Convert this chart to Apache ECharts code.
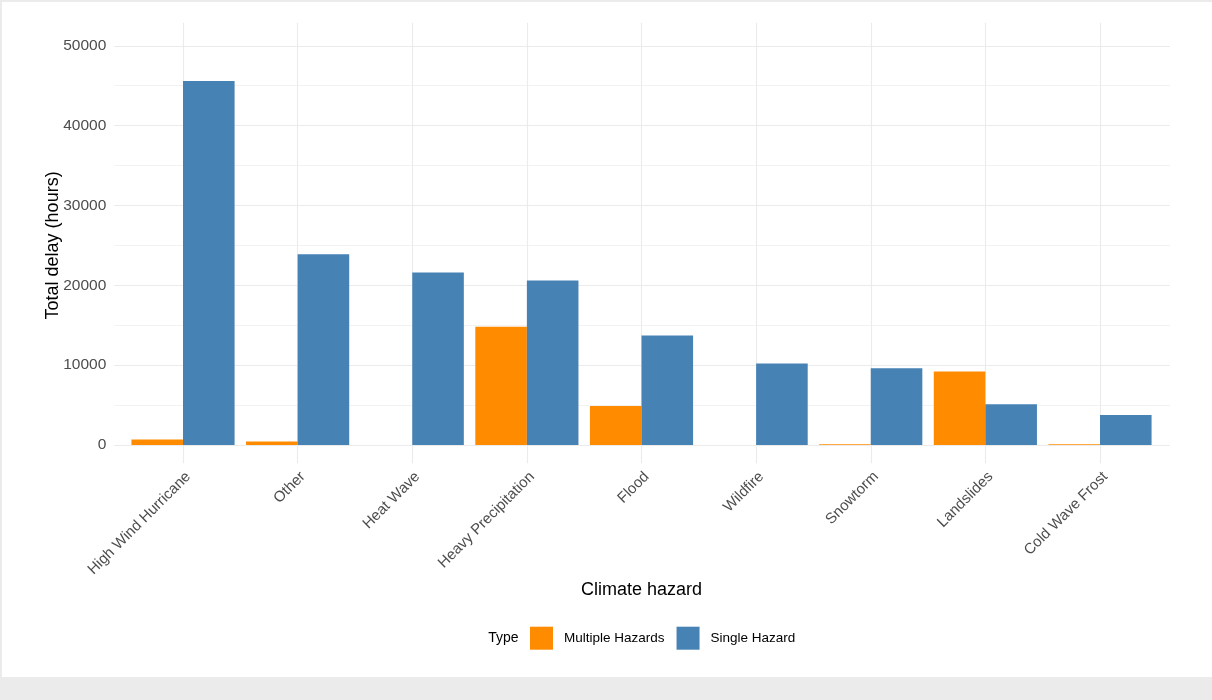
<!DOCTYPE html>
<html>
<head>
<meta charset="utf-8">
<script src="https://cdn.jsdelivr.net/npm/echarts@6/dist/echarts.min.js"></script>
<style>
  html, body { margin: 0; padding: 0; background: #ebebeb; width: 1212px; height: 700px; overflow: hidden; }
  #main { position: absolute; left: 2px; top: 2px; width: 1210px; height: 675px; background: #ffffff; }
</style>
</head>
<body>
<div id="main"></div>
<script>
const categories = ["High Wind Hurricane", "Other", "Heat Wave", "Heavy Precipitation", "Flood", "Wildfire", "Snowtorm", "Landslides", "Cold Wave Frost"];
const multipleHazards = [700, 450, null, 14800, 4900, null, 100, 9200, 80];
const singleHazard = [45600, 23900, 21600, 20600, 13700, 10200, 9600, 5100, 3750];
const seriesNames = ["Multiple Hazards", "Single Hazard"];
const seriesColors = ["#FF8C00", "#4682B4"];
const yMin = 0, yMax = 50000, yInterval = 10000;

const FONT = "'Liberation Sans', Arial, sans-serif";
const chart = echarts.init(document.getElementById('main'), null, { renderer: 'canvas' });

const option = {
  animation: false,
  textStyle: { fontFamily: FONT },
  grid: [
    { left: 123.7, top: 43.8, width: 1031.6, height: 399.2 },   // data
    { left: 112.3, top: 43.8, width: 1055.7, height: 399.2 },   // horizontal grid lines
    { left: 181, top: 20.7, width: 917, height: 440.6 }         // vertical grid lines
  ],
  xAxis: [
    {
      gridIndex: 0, type: 'category', data: categories,
      axisLine: { show: false }, axisTick: { show: false }, splitLine: { show: false },
      axisLabel: { rotate: 45, margin: 24, verticalAlign: 'top', color: '#4d4d4d', fontSize: 15, fontFamily: FONT, interval: 0 },
      name: 'Climate hazard', nameLocation: 'middle', nameGap: 136, nameMoveOverlap: false,
      nameTextStyle: { color: '#000000', fontSize: 18, fontFamily: FONT }
    },
    {
      gridIndex: 1, type: 'value', min: 0, max: 1,
      axisLine: { show: false }, axisTick: { show: false }, axisLabel: { show: false }, splitLine: { show: false }
    },
    {
      gridIndex: 2, type: 'category', data: categories, boundaryGap: false,
      axisLine: { show: false }, axisTick: { show: false }, axisLabel: { show: false, interval: 0 },
      splitLine: { show: true, interval: 0, lineStyle: { color: '#ebebeb', width: 1.1 } }
    }
  ],
  yAxis: [
    {
      gridIndex: 0, type: 'value', min: yMin, max: yMax, interval: yInterval,
      axisLine: { show: false }, axisTick: { show: false }, axisLabel: { show: false }, splitLine: { show: false }
    },
    {
      gridIndex: 1, type: 'value', min: yMin, max: yMax, interval: yInterval,
      axisLine: { show: false }, axisTick: { show: false },
      axisLabel: { color: '#4d4d4d', fontSize: 15.5, margin: 8, fontFamily: FONT, formatter: function (v) { return String(v); } },
      splitLine: { show: true, lineStyle: { color: '#ebebeb', width: 1.1 } },
      minorTick: { show: false, splitNumber: 2 },
      minorSplitLine: { show: true, lineStyle: { color: '#f2f2f2', width: 1 } },
      name: 'Total delay (hours)', nameLocation: 'middle', nameGap: 52, nameRotate: 90, nameMoveOverlap: false,
      nameTextStyle: { color: '#000000', fontSize: 18, fontFamily: FONT }
    },
    {
      gridIndex: 2, type: 'value', min: 0, max: 1, show: false
    }
  ],
  legend: {
    left: 528, top: 624.7, padding: 0,
    itemWidth: 23, itemHeight: 23, itemGap: 12,
    icon: 'rect',
    data: seriesNames,
    textStyle: { color: '#000000', fontSize: 13.5, fontFamily: FONT, padding: [0, 0, 0, 6] }
  },
  graphic: [
    { type: 'text', x: 486.3, y: 636.5, style: { text: 'Type', fill: '#000000', font: "14px 'Liberation Sans', Arial, sans-serif", verticalAlign: 'middle', align: 'left' } }
  ],
  series: [
    {
      name: seriesNames[0], type: 'bar', xAxisIndex: 0, yAxisIndex: 0,
      data: multipleHazards, barWidth: '45%', barGap: '0%',
      itemStyle: { color: seriesColors[0] }
    },
    {
      name: seriesNames[1], type: 'bar', xAxisIndex: 0, yAxisIndex: 0,
      data: singleHazard, barWidth: '45%', barGap: '0%',
      itemStyle: { color: seriesColors[1] }
    }
  ]
};
chart.setOption(option);
</script>
</body>
</html>
